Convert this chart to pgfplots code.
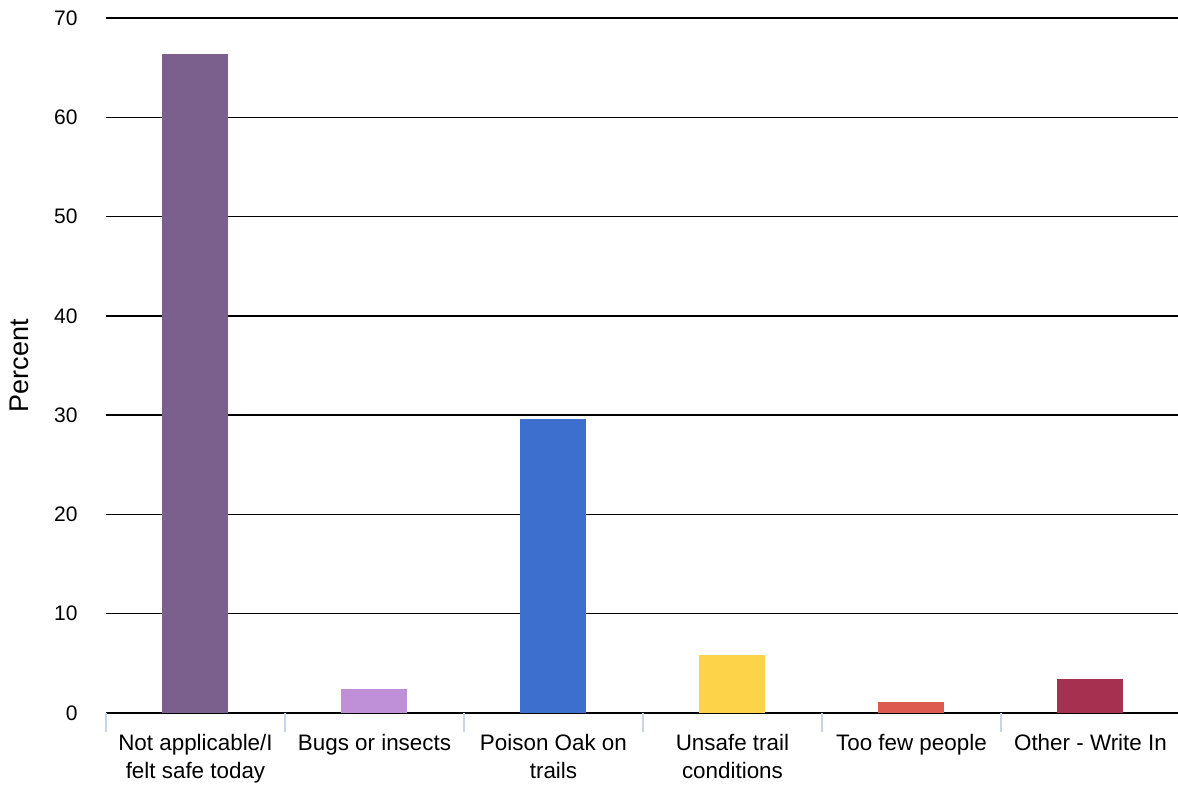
\documentclass[border=0pt]{standalone}
\usepackage{fontspec}
\setmainfont{Liberation Sans}
\usepackage{pgfplots}
\pgfplotsset{compat=1.18}
\definecolor{c1}{HTML}{7B5F8D}
\definecolor{c2}{HTML}{BF8FD8}
\definecolor{c3}{HTML}{3D6FCE}
\definecolor{c4}{HTML}{FDD34A}
\definecolor{c5}{HTML}{DD5A50}
\definecolor{c6}{HTML}{A6304F}
\definecolor{sep}{HTML}{C8D4E8}
\begin{document}
\begin{tikzpicture}
\path[use as bounding box] (-106pt,-73pt) rectangle (1072pt,713pt);
\begin{axis}[
  scale only axis,
  width=1074pt, height=695pt,
  xmin=-0.5, xmax=5.5,
  ymin=0, ymax=70,
  ytick={0,10,...,70},
  xtick={0,1,2,3,4,5},
  xticklabels={{Not applicable/I\\felt safe today},{Bugs or insects},{Poison Oak on\\trails},{Unsafe trail\\conditions},{Too few people},{Other - Write In}},
  /pgf/number format/assume math mode=true,
  xticklabel style={font=\fontsize{22.4}{27.3}\selectfont, align=center, anchor=north, yshift=-18pt},
  yticklabel style={font=\fontsize{21}{25}\selectfont, anchor=east, xshift=-25pt},
  major tick length=0pt,
  axis x line*=bottom,
  axis y line*=left,
  y axis line style={draw=none},
  x axis line style={line width=2.2pt, black},
  ymajorgrids,
  y grid style={black, line width=1.5pt},
  extra x ticks={-0.5,0.5,1.5,2.5,3.5,4.5,5.5},
  extra x tick labels={},
  extra x tick style={major tick length=19pt, tick align=outside, tick style={sep, line width=1.3pt}, grid=none},
  every axis y label/.style={at={(axis description cs:-0.0807,0.5)}, rotate=90, anchor=center, font=\fontsize{27}{32}\selectfont},
  ylabel={Percent},
  clip=false,
]
\addplot[ybar, bar width=66pt, fill=c1, draw=none] coordinates {(0,66.4)};
\addplot[ybar, bar width=66pt, fill=c2, draw=none] coordinates {(1,2.4)};
\addplot[ybar, bar width=66pt, fill=c3, draw=none] coordinates {(2,29.6)};
\addplot[ybar, bar width=66pt, fill=c4, draw=none] coordinates {(3,5.8)};
\addplot[ybar, bar width=66pt, fill=c5, draw=none] coordinates {(4,1.1)};
\addplot[ybar, bar width=66pt, fill=c6, draw=none] coordinates {(5,3.4)};
\end{axis}
\end{tikzpicture}
\end{document}
